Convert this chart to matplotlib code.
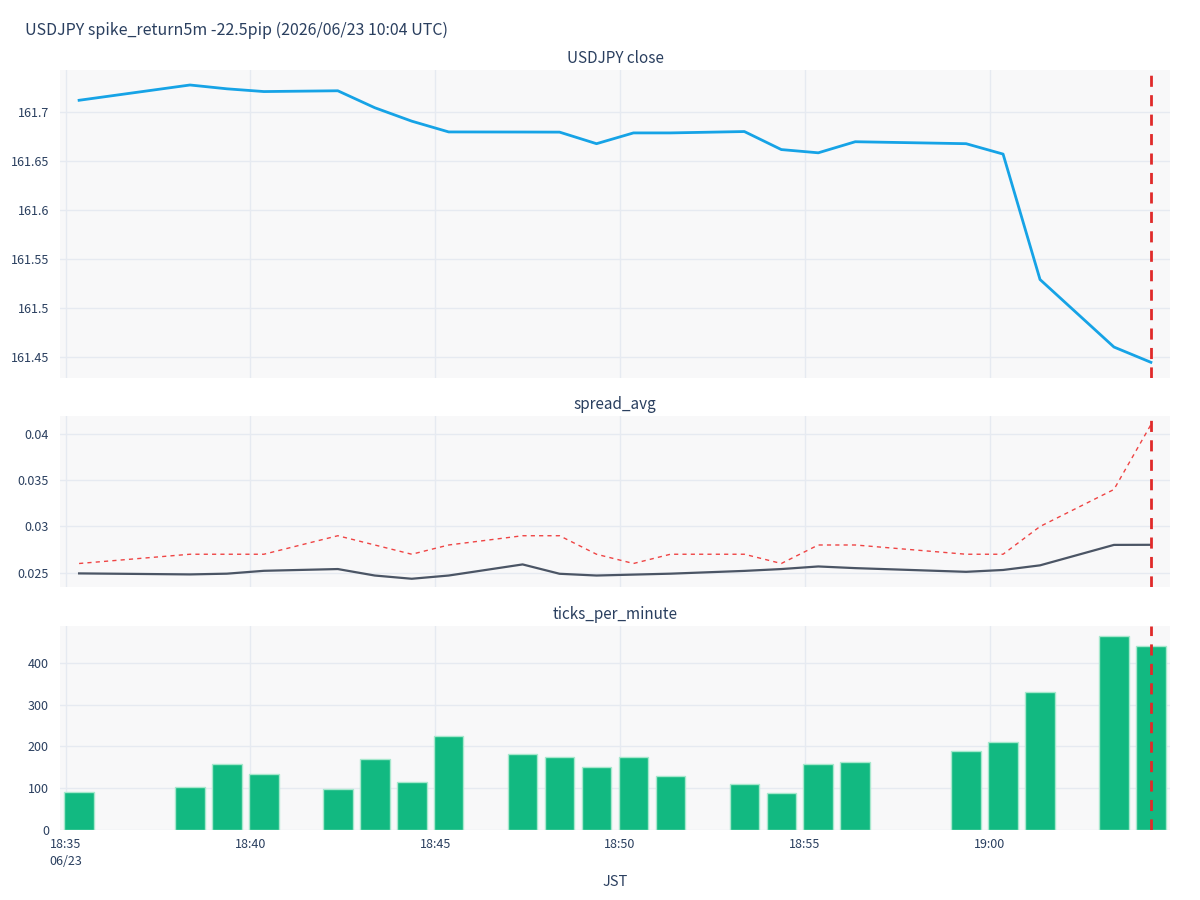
import numpy as np
import pandas as pd
import matplotlib
matplotlib.use("Agg")
import matplotlib.pyplot as plt
import matplotlib.dates as mdates

plt.rcParams['font.family'] = ['Noto Sans CJK JP', 'DejaVu Sans']

TITLE = "USDJPY spike_return5m -22.5pip (2026/06/23 10:04 UTC)"
START = "2026-06-23 18:35:22"
SPIKE = "2026-06-23 19:04:22"

# minute offsets of the rows present (missing minutes have no data)
minutes = [0, 3, 4, 5, 7, 8, 9, 10, 12, 13, 14, 15, 16, 18, 19, 20, 21, 24, 25, 26, 28, 29]

close = [161.7123, 161.7279, 161.7240, 161.7212, 161.7220, 161.7047, 161.6910, 161.6800,
         161.6799, 161.6798, 161.6680, 161.6790, 161.6790, 161.6804, 161.6620, 161.6587,
         161.6700, 161.6680, 161.6574, 161.5294, 161.4605, 161.4449]

spread_avg = [0.02493, 0.02482, 0.02490, 0.02521, 0.02540, 0.02470, 0.02435, 0.02470,
              0.02590, 0.02489, 0.02470, 0.02480, 0.02490, 0.02520, 0.02540, 0.02568,
              0.02550, 0.02510, 0.02530, 0.02580, 0.02801, 0.02802]

spread_max = [0.026, 0.027, 0.027, 0.027, 0.029, 0.028, 0.027, 0.028, 0.029, 0.029, 0.027,
              0.026, 0.027, 0.027, 0.026, 0.028, 0.028, 0.027, 0.027, 0.030, 0.034, 0.041]

ticks_per_minute = [92, 103, 159, 134, 97, 171, 114, 224, 181, 174, 150, 174, 130,
                    110, 89, 159, 163, 188, 211, 329, 464, 441]

t = pd.to_datetime(START) + pd.to_timedelta(minutes, unit="min")
t = t.to_pydatetime()
spike = pd.to_datetime(SPIKE).to_pydatetime()

TXT = "#2a3f5f"
GRID = "#e6eaf1"
BG = "#f8f8f9"

fig = plt.figure(figsize=(12, 9), dpi=100)
W, H = 1200, 900


def add_ax(top, bottom):
    return fig.add_axes([60 / W, 1 - bottom / H, 1110 / W, (bottom - top) / H])


ax1 = add_ax(70, 378)
ax2 = add_ax(416, 587)
ax3 = add_ax(626, 830)

ax1.plot(t, close, color="#16a3e6", lw=2)
ax2.plot(t, spread_avg, color="#4b5565", lw=1.6)
ax2.plot(t, spread_max, color="#ef4444", lw=1, ls=(0, (3, 3)))
ax3.bar(t, ticks_per_minute, width=0.8 / 1440, color="#12b981",
        edgecolor="#a7e8cd", linewidth=1)

x0 = pd.to_datetime("2026-06-23 18:34:51").to_pydatetime()
x1 = pd.to_datetime("2026-06-23 19:04:53").to_pydatetime()
tick_times = pd.date_range("2026-06-23 18:35", "2026-06-23 19:00", freq="5min").to_pydatetime()

ax1.set_ylim(161.4289, 161.7432)
ax1.set_yticks([161.45, 161.5, 161.55, 161.6, 161.65, 161.7])
ax1.set_yticklabels(["161.45", "161.5", "161.55", "161.6", "161.65", "161.7"])
ax2.set_ylim(0.02346, 0.04194)
ax2.set_yticks([0.025, 0.03, 0.035, 0.04])
ax2.set_yticklabels(["0.025", "0.03", "0.035", "0.04"])
ax3.set_ylim(0, 488)
ax3.set_yticks([0, 100, 200, 300, 400])

titles = ["USDJPY close", "spread_avg", "ticks_per_minute"]
for ax, title in zip([ax1, ax2, ax3], titles):
    ax.set_facecolor(BG)
    ax.set_xlim(x0, x1)
    ax.set_xticks(tick_times)
    ax.grid(True, color=GRID, lw=1)
    ax.set_axisbelow(True)
    for s in ax.spines.values():
        s.set_visible(False)
    ax.tick_params(length=0, labelsize=9, colors=TXT, pad=8)
    ax.axvline(spike, color="#e02a2a", lw=2, ls=(0, (4, 3)))
    ax.set_title(title, fontsize=11, color=TXT, pad=5)

ax1.tick_params(labelbottom=False)
ax2.tick_params(labelbottom=False)
labels = [d.strftime("%H:%M") for d in tick_times]
labels[0] = labels[0] + "\n" + tick_times[0].strftime("%m/%d")
ax3.set_xticklabels(labels, ha="center", va="top", linespacing=1.4)
ax3.tick_params(axis="x", pad=6)

fig.text(615 / W, 1 - 882 / H, "JST", fontsize=10.5, color=TXT, va="center", ha="center")
fig.text(25 / W, 1 - 30 / H, TITLE, fontsize=11.5, color=TXT, va="center", ha="left")

fig.savefig("out.png", dpi=100, facecolor="white")
